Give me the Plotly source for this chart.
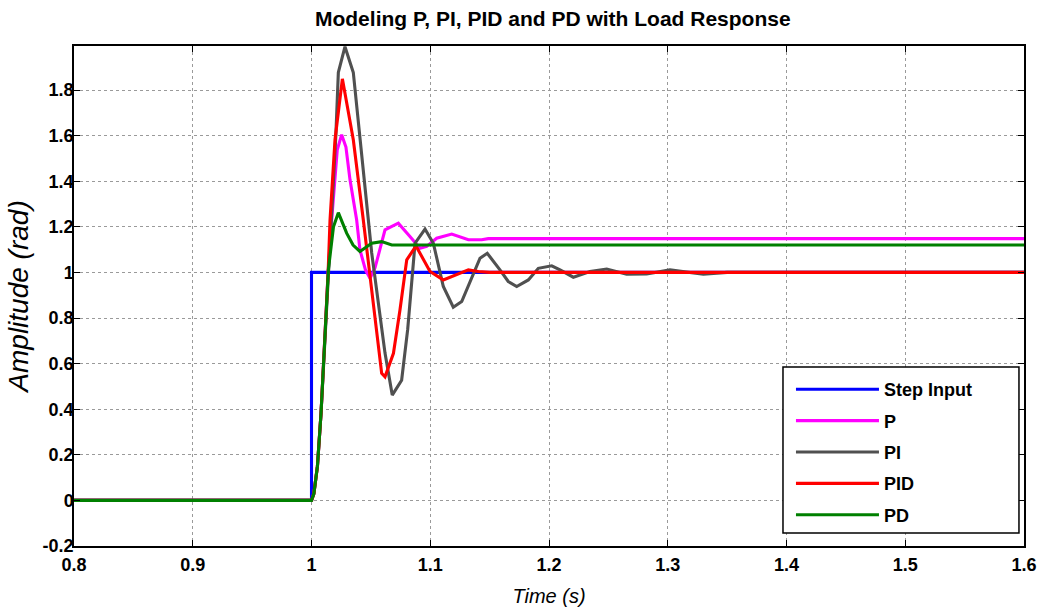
import plotly.graph_objects as go

# ---------------- data ----------------
step_t = [0.8, 1.0, 1.0, 1.6]
step_y = [0.0, 0.0, 1.0, 1.0]

p_t = [0.8, 1.0, 1.002, 1.005, 1.008, 1.011, 1.014, 1.017, 1.0217, 1.0254, 1.029, 1.0324, 1.038,
       1.0408, 1.0455, 1.0493, 1.0535, 1.0619, 1.0731, 1.0829, 1.0914, 1.097, 1.1054, 1.1181,
       1.1321, 1.1433, 1.1489, 1.6]
p_y = [0.0, 0.0, 0.03, 0.15, 0.38, 0.68, 1.0, 1.231, 1.538, 1.604, 1.55, 1.407, 1.231,
       1.099, 1.01, 0.974, 1.02, 1.187, 1.216, 1.157, 1.106, 1.114, 1.15, 1.168,
       1.143, 1.143, 1.148, 1.148]

pi_t = [0.8, 1.0, 1.002, 1.005, 1.008, 1.011, 1.014, 1.0165, 1.0205, 1.0226, 1.0282, 1.0352,
        1.0408, 1.0478, 1.0507, 1.0619, 1.068, 1.0759, 1.081, 1.0872, 1.0956, 1.1026, 1.111,
        1.1194, 1.1265, 1.1419, 1.148, 1.1587, 1.1657, 1.1728, 1.1826, 1.191, 1.2023, 1.2093,
        1.2205, 1.2345, 1.2486, 1.2654, 1.2822, 1.3019, 1.33, 1.35, 1.6]
pi_y = [0.0, 0.0, 0.03, 0.15, 0.38, 0.68, 1.0, 1.2, 1.6, 1.877, 1.99, 1.877,
        1.582, 1.231, 1.085, 0.646, 0.462, 0.527, 0.75, 1.128, 1.19, 1.128, 0.938,
        0.847, 0.872, 1.062, 1.084, 1.011, 0.96, 0.938, 0.967, 1.018, 1.029, 1.011,
        0.979, 1.004, 1.015, 0.992, 0.993, 1.011, 0.992, 1.0, 1.0]

pid_t = [0.8, 1.0, 1.002, 1.005, 1.008, 1.011, 1.014, 1.0156, 1.0198, 1.026, 1.0352, 1.0436,
         1.0535, 1.0591, 1.0619, 1.069, 1.0745, 1.0802, 1.088, 1.0998, 1.111, 1.1223, 1.1321,
         1.1405, 1.15, 1.6]
pid_y = [0.0, 0.0, 0.03, 0.15, 0.38, 0.68, 1.0, 1.231, 1.582, 1.849, 1.582, 1.231,
         0.791, 0.557, 0.542, 0.645, 0.835, 1.055, 1.116, 1.004, 0.967, 0.989, 1.011,
         1.004, 1.0, 1.0]

pd_t = [0.8, 1.0, 1.002, 1.005, 1.008, 1.011, 1.0142, 1.0185, 1.0226, 1.0296, 1.035, 1.0408,
        1.0507, 1.0591, 1.0676, 1.6]
pd_y = [0.0, 0.0, 0.03, 0.15, 0.38, 0.68, 1.011, 1.2, 1.262, 1.172, 1.12, 1.092,
        1.128, 1.135, 1.12, 1.12]

series_names = ["Step Input", "P", "PI", "PID", "PD"]
series_colors = ["#0000FF", "#FF00FF", "#505050", "#FF0000", "#008000"]

x_ticks = [0.8, 0.9, 1.0, 1.1, 1.2, 1.3, 1.4, 1.5, 1.6]
x_labels = ["0.8", "0.9", "1", "1.1", "1.2", "1.3", "1.4", "1.5", "1.6"]
y_ticks = [-0.2, 0.0, 0.2, 0.4, 0.6, 0.8, 1.0, 1.2, 1.4, 1.6, 1.8]
y_labels = ["-0.2", "0", "0.2", "0.4", "0.6", "0.8", "1", "1.2", "1.4", "1.6", "1.8"]

title_text = "Modeling P, PI, PID and PD with Load Response"
x_title = "Time (s)"
y_title = "Amplitude (rad)"

# ---------------- figure ----------------
FONT = "Liberation Sans, Arial, Helvetica, sans-serif"

fig = go.Figure()
xs = [step_t, p_t, pi_t, pid_t, pd_t]
ys = [step_y, p_y, pi_y, pid_y, pd_y]
for i, (name, col) in enumerate(zip(series_names, series_colors)):
    fig.add_trace(go.Scatter(
        x=xs[i], y=ys[i], mode="lines", name=name,
        line=dict(color=col, width=3.1),
        legendgroup=f"g{i}",
    ))

axis_common = dict(
    showline=True, linecolor="black", linewidth=1.5, mirror="ticks",
    ticks="inside", ticklen=6, tickcolor="black", tickwidth=1,
    showgrid=True, gridcolor="#9a9a9a", gridwidth=1, griddash="dot",
    zeroline=False, automargin=False,
    tickfont=dict(family=FONT, size=18, color="black", weight="bold"),
)

fig.update_xaxes(
    range=[0.8, 1.6], tickvals=x_ticks, ticktext=x_labels, ticklabelstandoff=2,
    title=dict(text=x_title, font=dict(family=FONT, size=20, color="black", style="italic"), standoff=15),
    **axis_common,
)
fig.update_yaxes(
    range=[-0.2, 1.993], tickvals=y_ticks, ticktext=y_labels, ticklabelstandoff=-5,
    title=dict(text=y_title, font=dict(family=FONT, size=28, color="black", style="italic"), standoff=6),
    **axis_common,
)

# legend frame (box drawn behind the transparent legend)
fig.add_shape(type="rect", xref="paper", yref="paper",
              x0=0.7463, x1=0.9947, y0=0.026, y1=0.358,
              line=dict(color="black", width=1.5), fillcolor="white", layer="above")

fig.update_layout(
    width=1045, height=612,
    margin=dict(l=74, r=21, t=46, b=66),
    paper_bgcolor="white", plot_bgcolor="white",
    title=dict(text=title_text, x=0.529, xanchor="center", xref="container", y=0.97, yanchor="middle",
               font=dict(family=FONT, size=21, color="black", weight="bold")),
    showlegend=True,
    legend=dict(
        x=0.7547, y=0.35, xanchor="left", yanchor="top",
        bgcolor="rgba(0,0,0,0)", borderwidth=0,
        font=dict(family=FONT, size=18, color="black", weight="bold"),
        itemwidth=83, tracegroupgap=5,
    ),
)

fig.write_html("out.html", config={"displayModeBar": False},
               post_script="document.body.style.margin='0';document.body.style.padding='0';")
